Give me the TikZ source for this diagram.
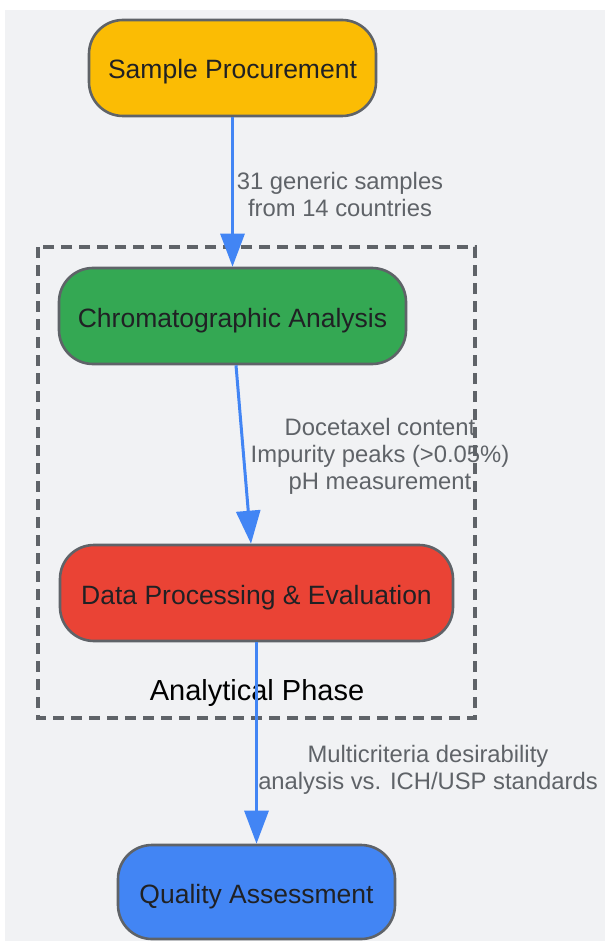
\documentclass[tikz,border=0pt]{standalone}
\usepackage{fontspec}
\setmainfont{Liberation Sans}
\usetikzlibrary{arrows.meta}
\definecolor{bgc}{HTML}{F1F2F4}
\definecolor{edgec}{HTML}{5F6368}
\definecolor{txtc}{HTML}{202124}
\definecolor{lblc}{HTML}{5F6368}
\definecolor{arrc}{HTML}{4285F4}
\definecolor{yel}{HTML}{FBBC04}
\definecolor{grn}{HTML}{34A853}
\definecolor{redc}{HTML}{EA4335}
\definecolor{blu}{HTML}{4285F4}
\tikzset{
  box/.style={draw=edgec, line width=2.6pt, rounded corners=34pt, text=txtc,
    font=\fontsize{26.5}{30}\selectfont, inner sep=0pt, anchor=center,
    text height=22pt, text depth=0pt},
  flow/.style={draw=arrc, line width=3pt, -{Triangle[length=33pt,width=24pt]}},
  elabel/.style={text=lblc, font=\fontsize{23.8}{27}\selectfont, align=center},
  cluster/.style={draw=edgec, line width=3.2pt, dash pattern=on 11pt off 7pt}
}
\begin{document}
\begin{tikzpicture}[x=1pt,y=-1pt]
\useasboundingbox (0,0) rectangle (605,941);
\fill[bgc] (5,10) rectangle (605,941);
% cluster
\draw[cluster] (38,247) rectangle (475,718);
\node[font=\fontsize{29}{32}\selectfont, text=black] (phase) at (257,692.5) {Analytical Phase};
% nodes
\node[box, fill=yel, minimum width=287pt, minimum height=96pt] (sample) at (232.5,68) {Sample Procurement};
\node[box, fill=grn, minimum width=347pt, minimum height=96pt] (chrom) at (232.5,316) {Chromatographic Analysis};
\node[box, fill=redc, minimum width=393pt, minimum height=96pt] (data) at (256.5,593) {Data Processing \& Evaluation};
\node[box, fill=blu, minimum width=277pt, minimum height=94pt] (qual) at (256.5,892) {Quality Assessment};
% connectors
\draw[flow] (sample.south) -- (chrom.north);
\draw[flow] ([xshift=3.5pt]chrom.south) -- ([xshift=-5.5pt]data.north);
\draw[flow] (data.south) -- (qual.north);
% edge labels
\node[elabel] (l1) at (340,194) {31 generic samples\\from 14 countries};
\node[elabel] (l2) at (380,456) {Docetaxel content\\Impurity peaks (>0.05\%)\\pH measurement};
\node[elabel] (l3) at (428,770) {Multicriteria desirability\\analysis vs. ICH/USP standards};
\end{tikzpicture}
\end{document}
